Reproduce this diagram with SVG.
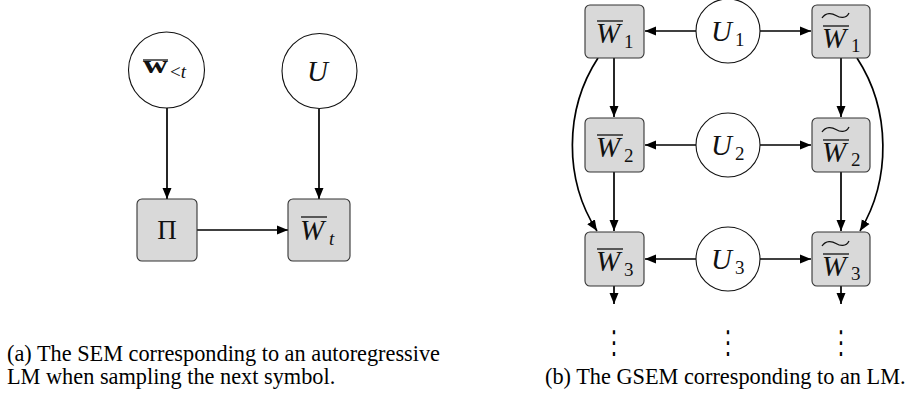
<svg xmlns="http://www.w3.org/2000/svg" width="923" height="408" viewBox="0 0 923 408">
<style>
.box{fill:#d9d9d9;stroke:#333;stroke-width:1.1}
.circ{fill:#fff;stroke:#111;stroke-width:1.1}
.edge{fill:none;stroke:#000;stroke-width:1.7;marker-end:url(#ah)}
.m{font-family:"Liberation Serif",serif;font-style:italic;font-size:29px;fill:#111}
.r{font-family:"Liberation Serif",serif;font-size:27px;fill:#111}
.sub{font-family:"Liberation Serif",serif;font-size:19px;fill:#111}
.ol{stroke:#111;stroke-width:1.3}
.tl{fill:none;stroke:#111;stroke-width:1.3}
.cap{font-family:"Liberation Serif",serif;font-size:22.3px;fill:#000}
.dots{font-family:"DejaVu Sans",sans-serif;font-size:21px;fill:#000}
</style>
<defs>
<marker id="ah" markerUnits="userSpaceOnUse" markerWidth="12" markerHeight="10" refX="11" refY="5" orient="auto">
<path d="M0,0.5 L11,5 L0,9.5 Z" fill="#000"/>
</marker>
</defs>

<g id="connectors">
<line class="edge" x1="167" y1="108" x2="167" y2="199"/>
<line class="edge" x1="319" y1="109" x2="319" y2="199"/>
<line class="edge" x1="197" y1="230" x2="288" y2="230"/>
<line class="edge" x1="696" y1="31" x2="645" y2="31"/>
<line class="edge" x1="760" y1="31" x2="811" y2="31"/>
<line class="edge" x1="696" y1="145" x2="645" y2="145"/>
<line class="edge" x1="760" y1="145" x2="811" y2="145"/>
<line class="edge" x1="696" y1="259" x2="645" y2="259"/>
<line class="edge" x1="760" y1="259" x2="811" y2="259"/>
<line class="edge" x1="614" y1="58" x2="614" y2="117"/>
<line class="edge" x1="614" y1="172" x2="614" y2="231"/>
<line class="edge" x1="841" y1="58" x2="841" y2="117"/>
<line class="edge" x1="841" y1="172" x2="841" y2="231"/>
<line class="edge" x1="614" y1="286" x2="614" y2="304"/>
<line class="edge" x1="841" y1="286" x2="841" y2="304"/>
<path class="edge" d="M598,58 C564,110 564,180 597,231"/>
<path class="edge" d="M857,58 C891,110 891,180 860,231"/>
</g>

<g id="node-wlt">
<circle class="circ" cx="166.5" cy="70" r="38"/>
<text x="143" y="73" textLength="25" lengthAdjust="spacingAndGlyphs" style="font-family:'Liberation Serif',serif;font-weight:bold;font-size:25px;fill:#111">w</text>
<line class="ol" x1="143" y1="60" x2="168" y2="60"/>
<text x="170" y="78" class="sub">&lt;<tspan font-style="italic">t</tspan></text>
</g>
<g id="node-U">
<circle class="circ" cx="319.5" cy="71" r="37.5"/>
<text x="307" y="81" class="m">U</text>
</g>
<g id="node-Pi">
<rect class="box" x="137" y="199" width="60" height="62" rx="5"/>
<text x="167" y="239" class="r" text-anchor="middle">Π</text>
</g>
<g id="node-Wt">
<rect class="box" x="288" y="199" width="62" height="62" rx="5"/>
<text x="300" y="240" class="m">W</text>
<line class="ol" x1="301" y1="217" x2="327" y2="217"/>
<text x="329" y="245" class="sub" font-style="italic">t</text>
</g>

<g id="node-W1">
<rect class="box" x="585" y="5" width="59" height="53" rx="5"/>
<text x="596" y="43" class="m">W</text>
<line class="ol" x1="597" y1="21" x2="623" y2="21"/>
<text x="624" y="48" class="sub">1</text>
</g>
<g id="node-U1">
<circle class="circ" cx="728" cy="31" r="32"/>
<text x="711" y="41" class="m">U</text>
<text x="735" y="46" class="sub">1</text>
</g>
<g id="node-Wt1">
<rect class="box" x="812" y="5" width="58" height="53" rx="5"/>
<path class="tl" d="M822,18 C826,12 832,13 836,15.5 C840,18 846,19 849,13"/>
<line class="ol" x1="823" y1="26" x2="849" y2="26"/>
<text x="822" y="48" class="m">W</text>
<text x="851" y="52" class="sub">1</text>
</g>

<g id="node-W2">
<rect class="box" x="585" y="118" width="59" height="54" rx="5"/>
<text x="596" y="157" class="m">W</text>
<line class="ol" x1="597" y1="135" x2="623" y2="135"/>
<text x="624" y="162" class="sub">2</text>
</g>
<g id="node-U2">
<circle class="circ" cx="728" cy="145" r="32"/>
<text x="711" y="155" class="m">U</text>
<text x="735" y="160" class="sub">2</text>
</g>
<g id="node-Wt2">
<rect class="box" x="812" y="118" width="58" height="54" rx="5"/>
<path class="tl" d="M822,132 C826,126 832,127 836,129.5 C840,132 846,133 849,127"/>
<line class="ol" x1="823" y1="140" x2="849" y2="140"/>
<text x="822" y="162" class="m">W</text>
<text x="851" y="166" class="sub">2</text>
</g>

<g id="node-W3">
<rect class="box" x="585" y="232" width="59" height="54" rx="5"/>
<text x="596" y="271" class="m">W</text>
<line class="ol" x1="597" y1="249" x2="623" y2="249"/>
<text x="624" y="276" class="sub">3</text>
</g>
<g id="node-U3">
<circle class="circ" cx="728" cy="259" r="32"/>
<text x="711" y="269" class="m">U</text>
<text x="735" y="274" class="sub">3</text>
</g>
<g id="node-Wt3">
<rect class="box" x="812" y="232" width="58" height="54" rx="5"/>
<path class="tl" d="M822,246 C826,240 832,241 836,243.5 C840,246 846,247 849,241"/>
<line class="ol" x1="823" y1="254" x2="849" y2="254"/>
<text x="822" y="276" class="m">W</text>
<text x="851" y="280" class="sub">3</text>
</g>

<g id="dots">
<text transform="translate(614,353) scale(1,1.5)" class="dots" text-anchor="middle">⋮</text>
<text transform="translate(728,353) scale(1,1.5)" class="dots" text-anchor="middle">⋮</text>
<text transform="translate(841,353) scale(1,1.5)" class="dots" text-anchor="middle">⋮</text>
</g>

<g id="captions">
<text x="7" y="361" class="cap">(a) The SEM corresponding to an autoregressive</text>
<text x="7" y="384" class="cap">LM when sampling the next symbol.</text>
<text x="545" y="384" class="cap">(b) The GSEM corresponding to an LM.</text>
</g>
</svg>
